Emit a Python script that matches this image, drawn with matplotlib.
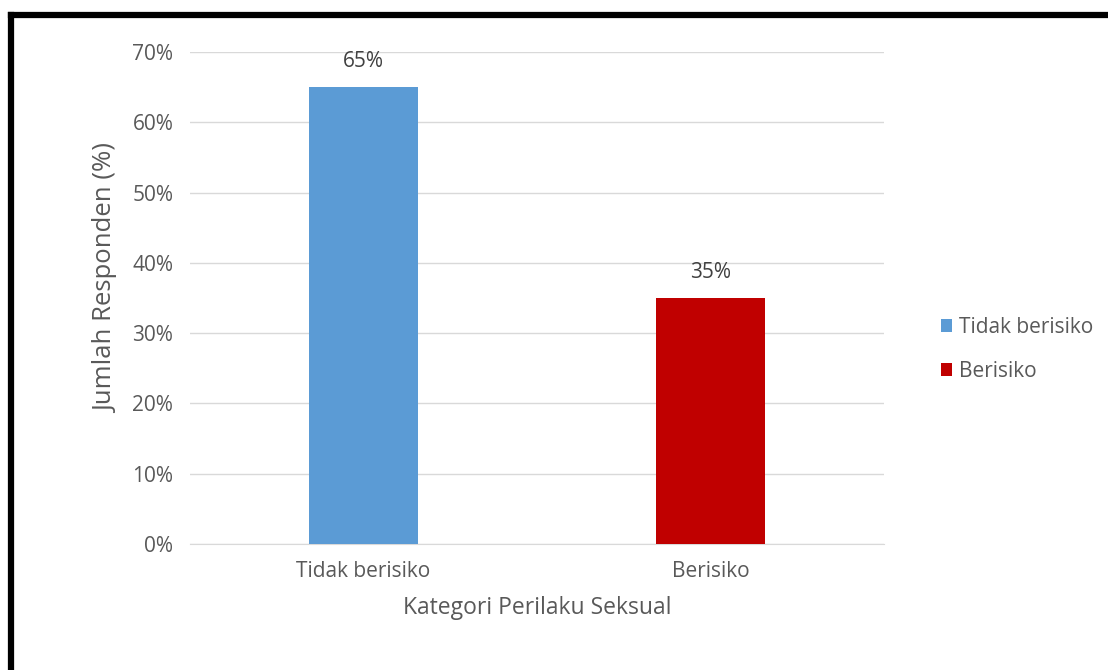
import matplotlib.pyplot as plt
from matplotlib.patches import Patch
from matplotlib.lines import Line2D

categories = ['Tidak berisiko', 'Berisiko']
values = [65, 35]
colors = ['#5B9BD5', '#C00000']
yticks = [0, 10, 20, 30, 40, 50, 60, 70]

plt.rcParams['font.family'] = ['Open Sans', 'DejaVu Sans']
text_color = '#595959'

fig = plt.figure(figsize=(11.08, 6.7), dpi=100)
ax = fig.add_axes([190 / 1108, 1 - 544 / 670, 694 / 1108, 492 / 670])

x = range(len(categories))
bars = ax.bar(x, values, width=0.314, color=colors, zorder=3)
for b, v in zip(bars, values):
    ax.text(b.get_x() + b.get_width() / 2, v + 2.1, f'{v}%', ha='center', va='bottom',
            fontsize=15, color='#404040')

ax.set_xlim(-0.5, 1.5)
ax.set_ylim(0, 70)
ax.set_yticks(yticks)
ax.set_yticklabels([f'{t}%' for t in yticks])
ax.set_xticks(list(x))
ax.set_xticklabels(categories)
ax.tick_params(axis='both', length=0, labelsize=15, colors=text_color)
ax.tick_params(axis='y', pad=12)
ax.tick_params(axis='x', pad=12)
ax.grid(axis='y', color='#D9D9D9', linewidth=1, zorder=0)
for s in ['top', 'right', 'left']:
    ax.spines[s].set_visible(False)
ax.spines['bottom'].set_color('#D9D9D9')

ax.set_xlabel('Kategori Perilaku Seksual', fontsize=16.5, color=text_color, labelpad=10)
ax.set_ylabel('Jumlah Responden (%)', fontsize=18.5, color=text_color)
ax.yaxis.set_label_coords((119 - 190) / 694, (544 - 279) / 492)

handles = [Patch(facecolor=c) for c in colors]
fig.legend(handles, categories, loc='center left', bbox_to_anchor=(922 / 1108, 1 - 349.5 / 670),
           frameon=False, fontsize=15, labelcolor=text_color, handlelength=0.55,
           handleheight=0.55, handletextpad=0.35, labelspacing=1.1)

# black frame lines visible at top and left of the original crop
fig.add_artist(Line2D([11 / 1108, 1], [1 - 15 / 670, 1 - 15 / 670], color='black',
                      linewidth=4.5, transform=fig.transFigure, solid_capstyle='projecting'))
fig.add_artist(Line2D([11 / 1108, 11 / 1108], [0, 1 - 15 / 670], color='black',
                      linewidth=4.5, transform=fig.transFigure, solid_capstyle='projecting'))

fig.savefig('out.png', dpi=100)
